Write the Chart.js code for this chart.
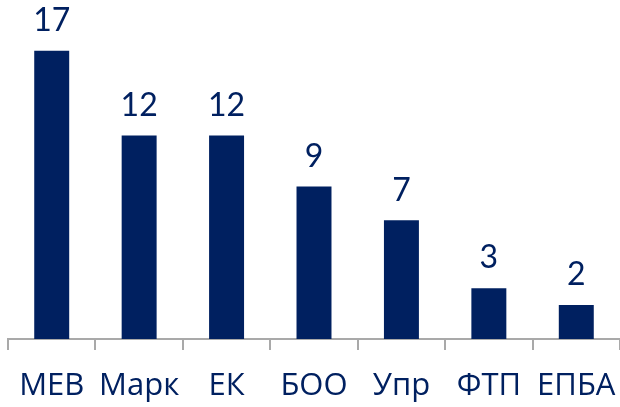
<!DOCTYPE html>
<html>
<head>
<meta charset="utf-8">
<script src="https://cdn.jsdelivr.net/npm/chart.js@4"></script>
<style>
  html, body { margin: 0; padding: 0; background: #fff; }
  #wrap { width: 620px; height: 407px; }
</style>
</head>
<body>
<div id="wrap"><canvas id="barChart"></canvas></div>
<script>
const categories = ["МЕВ", "Марк", "ЕК", "БОО", "Упр", "ФТП", "ЕПБА"];
const counts = [17, 12, 12, 9, 7, 3, 2];

const navy = "#002060";

// draws the number above each bar
const valueLabels = {
  id: "valueLabels",
  afterDatasetsDraw(chart) {
    const ctx = chart.ctx;
    const meta = chart.getDatasetMeta(0);
    ctx.save();
    ctx.fillStyle = navy;
    ctx.font = "32px Lato";
    ctx.textAlign = "center";
    ctx.textBaseline = "bottom";
    meta.data.forEach((bar, i) => {
      ctx.fillText(counts[i], bar.x, bar.y - 14);
    });
    ctx.restore();
  },
};

let ctx = document.getElementById("barChart").getContext("2d");

new Chart(ctx, {
  type: "bar",
  data: {
    labels: categories,
    datasets: [
      {
        data: counts,
        backgroundColor: navy,
        barPercentage: 0.4,
        categoryPercentage: 1,
      },
    ],
  },
  plugins: [valueLabels],
  options: {
    responsive: true,
    maintainAspectRatio: false,
    animation: false,
    layout: {
      padding: { left: 8, right: 0, top: 0, bottom: 0 },
    },
    plugins: {
      legend: { display: false },
      tooltip: { enabled: false },
    },
    scales: {
      x: {
        afterFit(scale) {
          // fixed axis band, no side padding from the labels
          scale.height = 68;
          scale.paddingLeft = 0;
          scale.paddingRight = 0;
        },
        grid: {
          offset: true,
          drawOnChartArea: false,
          drawTicks: true,
          tickLength: 11,
          lineWidth: 2,
          color: "#a9a9a9",
        },
        border: { color: "#a9a9a9", width: 2 },
        ticks: {
          color: navy,
          font: { family: "Open Sans", size: 31 },
          padding: 18,
          maxRotation: 0,
          autoSkip: false,
        },
      },
      y: {
        display: false,
        min: 0,
        max: 20,
      },
    },
  },
});
</script>
</body>
</html>
